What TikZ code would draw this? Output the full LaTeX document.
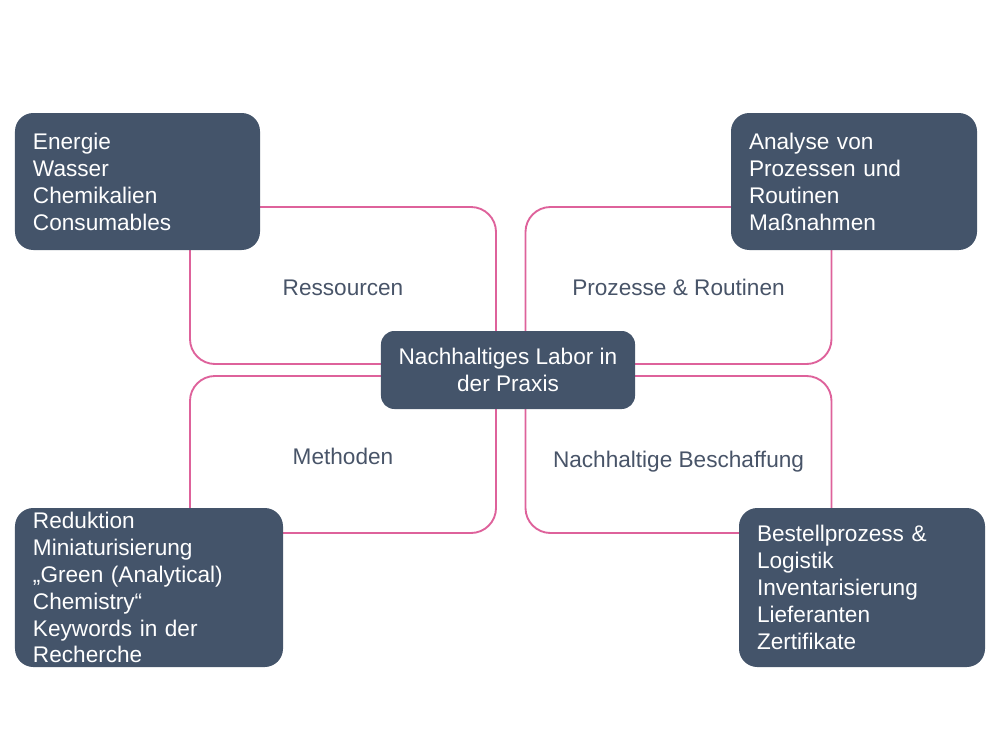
\documentclass[tikz,border=0pt]{standalone}
\usepackage{fontspec}
\setmainfont{Liberation Sans}
\definecolor{boxblue}{RGB}{68,84,106}
\definecolor{linkpink}{RGB}{222,98,155}
\definecolor{labelgray}{RGB}{72,84,104}
\newcommand{\lowerlabel}[2]{\raisebox{-#1}[\height][\depth]{#2}}
\begin{document}
\begin{tikzpicture}[x=0.03cm,y=-0.03cm,
  areabox/.style={draw=linkpink,line width=1.6pt,rounded corners=0.75cm,
    minimum width=9.18cm,minimum height=4.71cm,inner sep=0pt,
    text=labelgray,font=\fontsize{19.3}{23}\selectfont},
  darkbox/.style={fill=boxblue,draw=none,rounded corners=0.55cm,
    text=white,font=\fontsize{19.3}{23}\selectfont,align=left,
    inner xsep=0.54cm,inner ysep=0pt},
  centerbox/.style={fill=boxblue,draw=none,rounded corners=0.4cm,
    text=white,font=\fontsize{19.3}{23}\selectfont,align=center,
    minimum width=7.62cm,minimum height=2.34cm,inner sep=0pt}]
\useasboundingbox (0,0) rectangle (1000,750);
% pink areas
\node[areabox] (ress)  at (343,285.5)   {\lowerlabel{0.06cm}{Ressourcen}};
\node[areabox] (proz)  at (678.5,285.5) {\lowerlabel{0.06cm}{Prozesse \& Routinen}};
\node[areabox] (meth)  at (343,454.5)   {\lowerlabel{0.06cm}{Methoden}};
\node[areabox] (besch) at (678.5,454.5) {\lowerlabel{0.2cm}{Nachhaltige Beschaffung}};
% dark boxes
\node[darkbox,text width=6.27cm,minimum height=4.11cm] (tl) at (137.5,181.5)
  {Energie\\Wasser\\Chemikalien\\Consumables};
\node[darkbox,text width=6.30cm,minimum height=4.11cm] (tr) at (854,181.5)
  {Analyse von\\Prozessen und\\Routinen\\Maßnahmen};
\node[darkbox,text width=6.96cm,minimum height=4.77cm] (bl) at (149,587.5)
  {Reduktion\\Miniaturisierung\\„Green (Analytical)\\Chemistry“\\Keywords in der\\Recherche};
\node[darkbox,text width=6.30cm,minimum height=4.77cm] (br) at (862,587.5)
  {Bestellprozess \&\\Logistik\\Inventarisierung\\Lieferanten\\Zertifikate};
\node[centerbox] (center) at (508,370) {Nachhaltiges Labor in\\der Praxis};
\end{tikzpicture}
\end{document}
